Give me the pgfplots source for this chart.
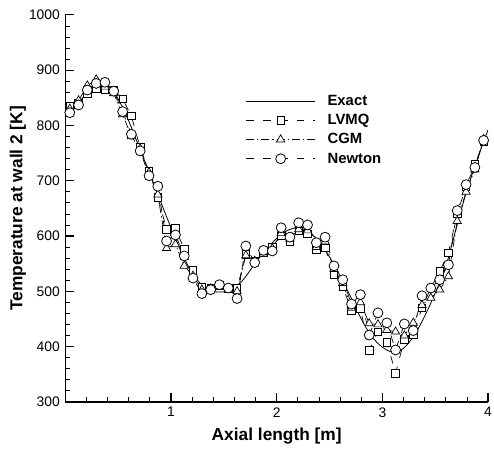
\documentclass[border=0pt]{standalone}
\usepackage{pgfplots}
\pgfplotsset{compat=1.18}
\usepackage{pgfplotstable}
\usepackage{fontspec}
\setmainfont{Liberation Sans}

\pgfplotstableread{
x y
0.0 820
0.1 836
0.2 857
0.3 873
0.4 872
0.5 848
0.6 808
0.7 760
0.8 712
0.9 663
1.0 615
1.1 570
1.2 533
1.3 510
1.4 500
1.5 499
1.6 505
1.7 525
1.8 552
1.9 575
2.0 596
2.1 610
2.2 615
2.3 608
2.4 590
2.5 562
2.6 528
2.7 490
2.8 450
2.9 418
3.0 399
3.1 390
3.2 397
3.3 420
3.4 455
3.5 497
3.6 545
3.7 615
3.8 683
3.9 740
4.0 792
}\exact

\pgfplotstableread{
x lvmq cgm newton
0.042 835 830 823
0.125 840 845 837
0.208 858 872 864
0.292 866 883 876
0.375 864 870 878
0.458 864 858 862
0.542 848 820 825
0.625 817 780 784
0.708 760 758 754
0.792 717 715 709
0.875 670 675 690
0.958 612 578 591
1.042 614 585 602
1.125 576 546 564
1.208 538 528 524
1.292 508 503 496
1.375 505 505 503
1.458 511 508 512
1.542 505 505 506
1.625 505 500 487
1.708 567 565 582
1.792 555 555 552
1.875 570 568 574
1.958 580 578 573
2.042 600 605 615
2.125 590 595 598
2.208 609 612 624
2.292 604 610 620
2.375 576 580 588
2.458 579 590 598
2.542 530 540 546
2.625 508 515 521
2.708 466 470 477
2.792 469 480 494
2.875 393 442 421
2.958 427 440 461
3.042 408 430 443
3.125 352 427 394
3.208 413 420 441
3.292 421 443 429
3.375 470 475 492
3.458 506 488 506
3.542 536 503 521
3.625 570 527 548
3.708 640 627 646
3.792 690 680 693
3.875 730 720 724
3.958 770 775 773
}\data

\begin{document}
\begin{tikzpicture}
\begin{axis}[
  scale only axis,
  width=427pt, height=391pt,
  xmin=0, xmax=4, ymin=300, ymax=1000,
  axis lines*=left,
  axis line style={line width=1.6pt},
  tick align=inside,
  xtick={1,2,3,4},
  minor xtick={0.2,0.4,0.6,0.8,1.2,1.4,1.6,1.8,2.2,2.4,2.6,2.8,3.2,3.4,3.6,3.8},
  ytick={300,400,...,1000},
  minor ytick={320,340,...,980},
  major tick length=9pt, minor tick length=5pt,
  every major tick/.append style={line width=1.2pt, black},
  every minor tick/.append style={line width=0.8pt, black},
  /pgf/number format/assume math mode=true,
  /pgf/number format/1000 sep={},
  tick label style={font=\fontsize{14}{17}\selectfont},
  xticklabel style={yshift=-2pt},
  yticklabel style={xshift=-2pt},
  xlabel={Axial length [m]},
  ylabel={Temperature at wall 2 [K]},
  xlabel style={font=\fontsize{17.5}{20}\selectfont\bfseries, at={(axis description cs:0.5,0)}, anchor=center, yshift=-34pt},
  ylabel style={font=\fontsize{17.5}{20}\selectfont\bfseries, at={(axis description cs:0,0.5)}, anchor=center, yshift=48pt},
  legend style={at={(0.426,0.798)}, anchor=north west, draw=none, fill=none, inner sep=0pt,
    font=\fontsize{15}{19}\selectfont\bfseries, row sep=3.5pt},
  legend cell align=left,
  /tikz/every odd column/.append style={column sep=10pt},
  legend image code/.code={\draw[mark repeat=2,mark phase=2,#1] plot coordinates {(0pt,0pt) (35pt,0pt) (70pt,0pt)};},
]
\coordinate (ll) at (rel axis cs:0,0);
\coordinate (ur) at (rel axis cs:1,1);
\addplot[black, line width=0.8pt, smooth, no marks] table[x=x,y=y] {\exact};
\addlegendentry{Exact}
\addplot[black, line width=0.7pt, dash pattern=on 8pt off 9pt, mark=square*, mark size=3.8pt, mark options={solid, fill=white, line width=0.7pt}] table[x=x,y=lvmq] {\data};
\addlegendentry{LVMQ}
\addplot[black, line width=0.7pt, dash pattern=on 8pt off 3pt on 1.5pt off 3pt, mark=triangle*, mark size=4.8pt, mark options={solid, fill=white, line width=0.7pt}] table[x=x,y=cgm] {\data};
\addlegendentry{CGM}
\addplot[black, line width=0.7pt, dash pattern=on 8pt off 9pt, mark=*, mark size=5pt, mark options={solid, fill=white, line width=0.8pt}] table[x=x,y=newton] {\data};
\addlegendentry{Newton}
\end{axis}
\pgfresetboundingbox
\path ([shift={(-66pt,-52pt)}]ll) rectangle ([shift={(6pt,15pt)}]ur);
\end{tikzpicture}
\end{document}
